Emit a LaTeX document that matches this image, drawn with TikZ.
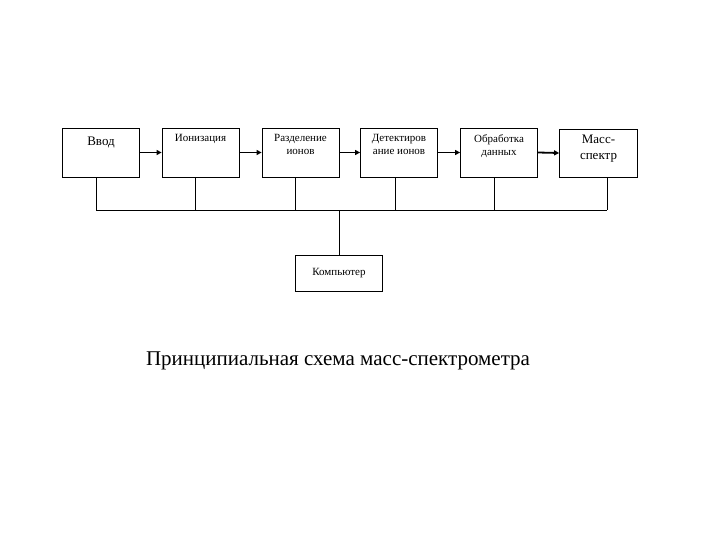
\documentclass[tikz,border=0pt]{standalone}
\usepackage{fontspec}
\setmainfont{Liberation Serif}
\usetikzlibrary{arrows.meta}
\begin{document}
\begin{tikzpicture}[x=1pt,y=-1pt,
 blk/.style={draw,line width=0.8pt,minimum width=77pt,minimum height=49pt,inner sep=0pt},
 lbl/.style={anchor=north,align=center,font=\fontsize{11}{13}\selectfont,inner sep=0pt},
 flow/.style={line width=1.8pt,-{Triangle[length=5pt,width=5pt]}},
 bus/.style={line width=0.8pt}]
\useasboundingbox (0,0) rectangle (720,540);
\node[blk] (b1) at (101,152.5) {};
\node[blk] (b2) at (200.5,152.5) {};
\node[blk] (b3) at (300.5,152.5) {};
\node[blk] (b4) at (399,152.5) {};
\node[blk] (b5) at (499,152.5) {};
\node[blk,minimum width=78pt,minimum height=48pt] (b6) at (598.5,153) {};
\node[lbl,font=\fontsize{13}{15}\selectfont] (t1) at (101,137) {Ввод};
\node[lbl] (t2) at (200.5,134) {Ионизация};
\node[lbl] (t3) at (300.5,134) {Разделение\\ионов};
\node[lbl] (t4) at (399,134) {Детектиров\\ание ионов};
\node[lbl] (t5) at (499,134) {Обработка\\данных};
\node[lbl,font=\fontsize{13}{16}\selectfont] (t6) at (598.5,135) {Масс-\\спектр};
\draw[flow] (b1.east) -- (b2.west);
\draw[flow] (b2.east) -- (b3.west);
\draw[flow] (b3.east) -- (b4.west);
\draw[flow] (b4.east) -- (b5.west);
\draw[flow] (b5.east) -- (b6.west);
\node[draw,line width=0.8pt,minimum width=87pt,minimum height=36pt,inner sep=0pt,font=\fontsize{11}{13}\selectfont] (pc) at (339,273) {Компьютер};
\coordinate (L) at (96,210);
\coordinate (R) at (607,210);
\draw[bus] (L) -- (R);
\draw[bus] (b1.south -| L) -- (L);
\foreach \n/\x in {b2/195,b3/295,b4/395,b5/494}{
  \coordinate (c\n) at (\x,210);
  \draw[bus] (\n.south -| c\n) -- (c\n);
}
\draw[bus] (b6.south -| R) -- (R);
\draw[bus] (pc.north) -- (pc.north |- L);
\node[font=\fontsize{21}{25}\selectfont,inner sep=0pt] (cap) at (338,361) {Принципиальная схема масс-спектрометра};
\end{tikzpicture}
\end{document}
